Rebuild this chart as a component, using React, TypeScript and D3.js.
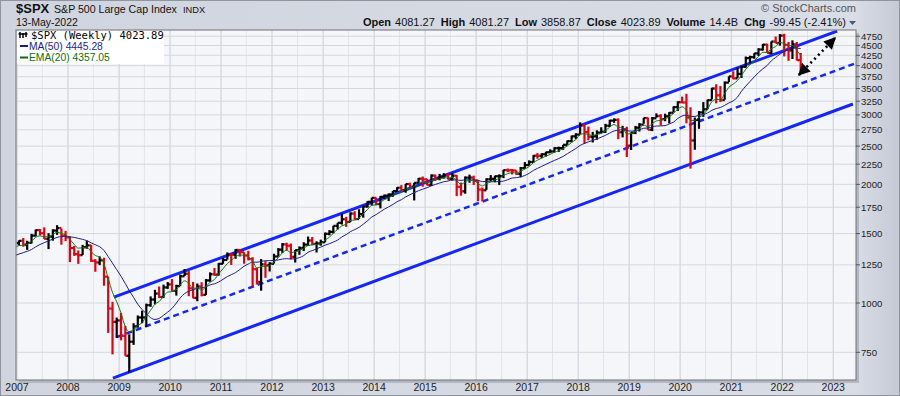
import React from 'react'
import * as d3 from 'd3'

// 2006 month-end closes, only used to warm up the averages
const warmupCloses = [
  1280.08, 1280.66, 1294.83, 1310.61, 1270.09, 1270.2, 1276.66, 1303.82, 1335.85, 1377.94, 1400.63, 1418.3,
]

// monthly closes from Jan 2007 to 13-May-2022
const closes = [
  1438.24, 1406.82, 1420.86, 1482.37, 1530.62, 1503.35, 1455.27, 1473.99, 1526.75, 1549.38, 1481.14, 1468.36,
  1378.55, 1330.63, 1322.7, 1385.59, 1400.38, 1280.0, 1267.38, 1282.83, 1166.36, 968.75, 896.24, 903.25,
  825.88, 735.09, 797.87, 872.81, 919.14, 919.32, 987.48, 1020.62, 1057.08, 1036.19, 1095.63, 1115.1,
  1073.87, 1104.49, 1169.43, 1186.69, 1089.41, 1030.71, 1101.6, 1049.33, 1141.2, 1183.26, 1180.55, 1257.64,
  1286.12, 1327.22, 1325.83, 1363.61, 1345.2, 1320.64, 1292.28, 1218.89, 1131.42, 1253.3, 1246.96, 1257.6,
  1312.41, 1365.68, 1408.47, 1397.91, 1310.33, 1362.16, 1379.32, 1406.58, 1440.67, 1412.16, 1416.18, 1426.19,
  1498.11, 1514.68, 1569.19, 1597.57, 1630.74, 1606.28, 1685.73, 1632.97, 1681.55, 1756.54, 1805.81, 1848.36,
  1782.59, 1859.45, 1872.34, 1883.95, 1923.57, 1960.23, 1930.67, 2003.37, 1972.29, 2018.05, 2067.56, 2058.9,
  1994.99, 2104.5, 2067.89, 2085.51, 2107.39, 2063.11, 2103.84, 1972.18, 1920.03, 2079.36, 2080.41, 2043.94,
  1940.24, 1932.23, 2059.74, 2065.3, 2096.95, 2098.86, 2173.6, 2170.95, 2168.27, 2126.15, 2198.81, 2238.83,
  2278.87, 2363.64, 2362.72, 2384.2, 2411.8, 2423.41, 2470.3, 2471.65, 2519.36, 2575.26, 2647.58, 2673.61,
  2823.81, 2713.83, 2640.87, 2648.05, 2705.27, 2718.37, 2816.29, 2901.52, 2913.98, 2711.74, 2760.17, 2506.85,
  2704.1, 2784.49, 2834.4, 2945.83, 2752.06, 2941.76, 2980.38, 2926.46, 2976.74, 3037.56, 3140.98, 3230.78,
  3225.52, 2954.22, 2584.59, 2912.43, 3044.31, 3100.29, 3271.12, 3500.31, 3363.0, 3269.96, 3621.63, 3756.07,
  3714.24, 3811.15, 3972.89, 4181.17, 4204.11, 4297.5, 4395.26, 4522.68, 4307.54, 4605.38, 4567.0, 4766.18,
  4515.55, 4373.94, 4530.41, 4131.93, 4023.89,
]

const highs = [
  1441.6, 1461.57, 1438.89, 1498.02, 1535.56, 1540.56, 1555.9, 1503.89, 1538.74, 1576.09, 1545.79, 1523.57,
  1471.77, 1396.02, 1359.68, 1404.57, 1440.24, 1404.05, 1292.17, 1313.15, 1303.04, 1167.03, 1007.51, 918.85,
  943.85, 875.01, 832.98, 888.7, 930.17, 956.23, 996.68, 1039.47, 1080.15, 1101.36, 1113.69, 1130.38,
  1150.45, 1112.42, 1180.69, 1219.8, 1205.13, 1131.23, 1120.95, 1129.24, 1150.0, 1196.14, 1227.08, 1262.6,
  1302.67, 1344.07, 1332.28, 1370.58, 1370.58, 1345.2, 1356.48, 1307.38, 1229.29, 1292.66, 1277.55, 1269.37,
  1333.47, 1378.04, 1419.15, 1422.38, 1415.32, 1363.46, 1391.74, 1426.68, 1474.51, 1470.96, 1434.27, 1448.0,
  1509.94, 1530.94, 1570.28, 1597.57, 1687.18, 1654.19, 1698.78, 1709.67, 1729.86, 1765.67, 1813.55, 1849.44,
  1850.84, 1867.92, 1883.97, 1897.28, 1924.03, 1968.17, 1991.39, 2005.04, 2019.26, 2018.19, 2075.76, 2093.55,
  2064.43, 2119.59, 2117.52, 2125.92, 2134.72, 2129.87, 2132.82, 2112.66, 2020.86, 2094.32, 2116.48, 2104.27,
  2038.2, 1962.96, 2072.21, 2111.05, 2103.48, 2120.55, 2177.09, 2193.81, 2187.87, 2169.6, 2214.1, 2277.53,
  2300.99, 2371.54, 2400.98, 2398.16, 2418.71, 2453.82, 2484.04, 2490.87, 2519.44, 2582.98, 2657.74, 2694.97,
  2872.87, 2835.96, 2801.9, 2717.49, 2742.24, 2791.47, 2848.03, 2916.5, 2940.91, 2939.86, 2815.15, 2800.18,
  2708.95, 2813.49, 2860.31, 2949.52, 2954.13, 2964.15, 3027.98, 3013.59, 3021.99, 3050.1, 3154.26, 3247.93,
  3337.77, 3393.52, 3136.72, 2954.86, 3068.67, 3233.13, 3279.99, 3514.77, 3588.11, 3549.85, 3645.99, 3760.2,
  3870.9, 3950.43, 3994.41, 4218.78, 4238.04, 4302.43, 4429.97, 4537.36, 4545.85, 4608.08, 4743.83, 4808.93,
  4818.62, 4595.31, 4637.3, 4593.45, 4307.66,
]

const lows = [
  1403.97, 1389.42, 1363.98, 1416.37, 1476.7, 1484.18, 1454.25, 1370.6, 1439.29, 1489.56, 1406.1, 1435.65,
  1270.05, 1316.75, 1256.98, 1324.35, 1373.07, 1272.0, 1200.44, 1247.45, 1106.42, 839.8, 741.02, 815.69,
  804.3, 734.52, 666.79, 783.32, 866.1, 888.86, 869.32, 978.51, 992.25, 1029.38, 1029.38, 1085.89,
  1071.59, 1044.5, 1105.36, 1170.69, 1040.78, 1028.33, 1010.91, 1039.7, 1047.8, 1131.87, 1173.0, 1173.8,
  1257.62, 1289.14, 1249.05, 1294.7, 1311.8, 1258.07, 1282.86, 1101.54, 1114.22, 1074.77, 1158.66, 1202.37,
  1258.86, 1312.41, 1340.03, 1357.38, 1291.98, 1266.74, 1325.41, 1354.65, 1396.56, 1403.28, 1343.35, 1398.11,
  1426.19, 1485.01, 1501.48, 1536.03, 1581.28, 1560.33, 1604.57, 1627.47, 1633.41, 1646.47, 1746.2, 1767.99,
  1770.45, 1737.92, 1834.44, 1814.36, 1859.79, 1915.98, 1930.67, 1904.78, 1964.04, 1820.66, 2001.01, 1972.56,
  1988.12, 1980.9, 2039.69, 2048.38, 2067.93, 2056.32, 2044.02, 1867.01, 1871.91, 1893.7, 2019.39, 1993.26,
  1812.29, 1810.1, 1937.09, 2033.8, 2025.91, 1991.68, 2074.02, 2147.58, 2119.12, 2114.72, 2083.79, 2187.44,
  2233.62, 2271.65, 2322.25, 2328.95, 2352.72, 2405.7, 2407.7, 2417.35, 2446.55, 2520.4, 2557.45, 2605.52,
  2682.36, 2532.69, 2585.89, 2553.8, 2594.62, 2691.99, 2698.95, 2796.34, 2864.12, 2603.54, 2631.09, 2346.58,
  2443.96, 2681.83, 2722.27, 2848.63, 2750.52, 2728.81, 2952.22, 2822.12, 2891.85, 2855.94, 3050.72, 3070.33,
  3214.64, 2855.84, 2191.86, 2447.49, 2766.64, 2965.66, 3101.17, 3284.53, 3209.45, 3233.94, 3279.74, 3633.4,
  3694.12, 3725.62, 3723.34, 3955.31, 4056.88, 4164.4, 4233.13, 4367.73, 4305.91, 4278.94, 4560.0, 4495.12,
  4222.62, 4114.65, 4157.87, 4124.28, 3858.87,
]

const priceTicks = [750, 1000, 1250, 1500, 1750, 2000, 2250, 2500, 2750, 3000, 3250, 3500, 3750, 4000, 4250, 4500, 4750]
const yearLabels = ['2007', '2008', '2009', '2010', '2011', '2012', '2013', '2014', '2015', '2016', '2017', '2018', '2019', '2020', '2021', '2022', '2023']

// channel drawn on the chart: [date, price] anchors
const channelUpper: [Date, number][] = [[new Date(2008, 10, 25), 1035], [new Date(2023, 0, 29), 4895]]
const channelMiddle: [Date, number][] = [[new Date(2008, 11, 17), 820], [new Date(2023, 5, 13), 4060]]
const channelLower: [Date, number][] = [[new Date(2008, 10, 18), 645], [new Date(2023, 4, 22), 3198]]
const arrowPoints: [Date, number][] = [[new Date(2022, 3, 30), 3788], [new Date(2023, 0, 15), 4703]]

const quoteFields = [
  ['Open', '4081.27'],
  ['High', '4081.27'],
  ['Low', '3858.87'],
  ['Close', '4023.89'],
  ['Volume', '14.4B'],
  ['Chg', '-99.45 (-2.41%)'],
]

const lastBarDate = new Date(2022, 4, 13)
const legendClose = '4023.89'
const legendMA = '4445.28'
const legendEMA = '4357.05'

const W = 900
const H = 396
const plot = { left: 16, right: 856, top: 30, bottom: 380 }

export default function App() {
  const x = d3.scaleTime()
    .domain([new Date(2006, 11, 25), new Date(2023, 5, 13)])
    .range([plot.left, plot.right])
  const y = d3.scaleLog().domain([638, 4926]).range([plot.bottom, plot.top])

  const allCloses = [...warmupCloses, ...closes]
  const dateAt = (k: number) => {
    if (k === allCloses.length - 1) return lastBarDate
    return new Date(2006 + Math.floor(k / 12), k % 12, 15)
  }

  // weekly MA(50) ~ 12 months, weekly EMA(20) ~ 4.6 months
  const ma: [Date, number][] = []
  const ema: [Date, number][] = []
  let e = allCloses[0]
  const alpha = 0.353
  allCloses.forEach((c, k) => {
    e = k === 0 ? c : e + alpha * (c - e)
    if (k >= 11) {
      const avg = d3.mean(allCloses.slice(k - 11, k + 1)) as number
      if (k >= warmupCloses.length - 1) ma.push([dateAt(k), avg])
    }
    if (k >= warmupCloses.length - 1) ema.push([dateAt(k), e])
  })

  const line = d3.line<[Date, number]>()
    .x(d => x(d[0]))
    .y(d => y(d[1]))
    .curve(d3.curveMonotoneX)
  const straight = d3.line<[Date, number]>().x(d => x(d[0])).y(d => y(d[1]))

  const bars = closes.map((c, i) => {
    const k = i + warmupCloses.length
    const prev = allCloses[k - 1]
    return { date: dateAt(k), open: prev, close: c, high: highs[i], low: lows[i], down: c < prev }
  })

  const halfYears = yearLabels.map(yl => new Date(+yl, 6, 1))

  const blue = '#1226ff'
  const labelFont = 'Liberation Sans, Arial, sans-serif'

  return (
    <svg width={W} height={H} style={{ position: 'absolute', left: 0, top: 0 }} fontFamily={labelFont}>
      <defs>
        <linearGradient id="bg" x1="0" y1="0" x2="1" y2="0">
          <stop offset="0" stopColor="#cfd4de" />
          <stop offset="0.95" stopColor="#d9dde6" />
          <stop offset="1" stopColor="#c4c9d4" />
        </linearGradient>
        <clipPath id="plotClip">
          <rect x={plot.left} y={plot.top} width={plot.right - plot.left} height={plot.bottom - plot.top} />
        </clipPath>
        <marker id="arrowHead" viewBox="0 0 10 10" refX="9" refY="5" markerWidth="13" markerHeight="12"
          markerUnits="userSpaceOnUse" orient="auto-start-reverse">
          <path d="M0,0 L10,5 L0,10 z" fill="#000" />
        </marker>
      </defs>

      <rect x={0} y={0} width={W} height={H} fill="url(#bg)" />
      <rect x={0.5} y={0.5} width={W - 1} height={H - 1} fill="none" stroke="#8f949e" />

      {/* header */}
      <text x={16} y={13} fontSize={13} fontWeight={700} fill="#111">$SPX</text>
      <text x={54} y={13} fontSize={10.6} fill="#111">S&amp;P 500 Large Cap Index</text>
      <text x={183} y={13} fontSize={9.3} fill="#111">INDX</text>
      <text x={16} y={26} fontSize={10.5} fill="#111">13-May-2022</text>
      <text x={856} y={12} fontSize={11} fill="#555" textAnchor="end">© StockCharts.com</text>
      <text x={846} y={26} fontSize={11} fill="#111" textAnchor="end">
        {quoteFields.map(([k, v], i) => (
          <React.Fragment key={k}>
            <tspan fontWeight={700} dx={i === 0 ? 0 : 6}>{k}</tspan>
            <tspan dx={4}>{v}</tspan>
          </React.Fragment>
        ))}
      </text>
      <path d="M849,21 L856,21 L852.5,25 z" fill="#3b5b8c" />

      {/* plot frame */}
      <rect x={plot.left + 3} y={plot.top + 3} width={plot.right - plot.left} height={plot.bottom - plot.top} fill="#b3b8c3" />
      <rect x={plot.left} y={plot.top} width={plot.right - plot.left} height={plot.bottom - plot.top} fill="#f5f6fa" />

      <g clipPath="url(#plotClip)">
        {halfYears.map((d, i) => (
          <line key={'h' + i} x1={x(d)} x2={x(d)} y1={plot.top} y2={plot.bottom} stroke="#e1e4ea" />
        ))}
        {yearLabels.map(yl => {
          const xx = x(new Date(+yl, 0, 1))
          return <line key={'y' + yl} x1={xx} x2={xx} y1={plot.top} y2={plot.bottom} stroke="#c9cdd5" />
        })}
        {priceTicks.map(t => (
          <line key={'p' + t} x1={plot.left} x2={plot.right} y1={y(t)} y2={y(t)} stroke="#d4d8df" />
        ))}

        {/* channel */}
        <path d={straight(channelLower) || ''} stroke={blue} strokeWidth={3} fill="none" />
        <path d={straight(channelMiddle) || ''} stroke={blue} strokeWidth={2.5} strokeDasharray="6 4" fill="none" />
        <path d={straight(channelUpper) || ''} stroke={blue} strokeWidth={3} fill="none" />

        {/* price bars */}
        {bars.map((b, i) => {
          const xx = x(b.date)
          const col = b.down ? '#e3000f' : '#000'
          return (
            <g key={'b' + i} stroke={col} strokeWidth={2.2}>
              <line x1={xx} x2={xx} y1={y(b.high)} y2={y(b.low)} />
              <line x1={xx - 2.2} x2={xx} y1={y(b.open)} y2={y(b.open)} />
              <line x1={xx} x2={xx + 2.2} y1={y(b.close)} y2={y(b.close)} />
            </g>
          )
        })}

        <path d={line(ma) || ''} stroke="#1c1c8c" strokeWidth={1} fill="none" />
        <path d={line(ema) || ''} stroke="#0b7a0b" strokeWidth={1} fill="none" />

        {/* dotted arrow */}
        <path d={straight(arrowPoints) || ''} stroke="#000" strokeWidth={2.6} strokeDasharray="2 3.5"
          fill="none" markerStart="url(#arrowHead)" markerEnd="url(#arrowHead)" />
      </g>

      <rect x={plot.left} y={plot.top} width={plot.right - plot.left} height={plot.bottom - plot.top} fill="none" stroke="#6e7179" />

      {/* legend */}
      <rect x={plot.left + 1} y={plot.top + 1} width={147} height={33} fill="#fff" />
      <g stroke="#000" strokeWidth={1.5}>
        <line x1={20} x2={20} y1={32} y2={38} />
        <line x1={23} x2={23} y1={33} y2={38} />
        <line x1={26} x2={26} y1={32} y2={37} />
        <line x1={18.5} x2={27.5} y1={34} y2={34} />
      </g>
      <text x={31} y={38.5} fontSize={10.5} fontFamily="DejaVu Sans Mono, monospace" fill="#000">
        $SPX (Weekly) {legendClose}
      </text>
      <line x1={20} x2={28} y1={46} y2={46} stroke="#1c1c8c" strokeWidth={2} />
      <text x={29} y={49.5} fontSize={10.3} fill="#1c1c8c">MA(50) {legendMA}</text>
      <line x1={20} x2={28} y1={57.5} y2={57.5} stroke="#0b6e0b" strokeWidth={2} />
      <text x={29} y={61} fontSize={10.3} fill="#0b6e0b">EMA(20) {legendEMA}</text>

      {/* right axis */}
      {priceTicks.map(t => (
        <g key={'a' + t}>
          <line x1={plot.right} x2={plot.right + 4} y1={y(t)} y2={y(t)} stroke="#555" />
          <text x={plot.right + 5} y={y(t) + 3.5} fontSize={9.6} fill="#222">{t}</text>
        </g>
      ))}

      {/* bottom axis */}
      {yearLabels.map(yl => (
        <text key={'l' + yl} x={x(new Date(+yl, 0, 1))} y={391} fontSize={10.5} textAnchor="middle" fill="#222">{yl}</text>
      ))}
    </svg>
  )
}
